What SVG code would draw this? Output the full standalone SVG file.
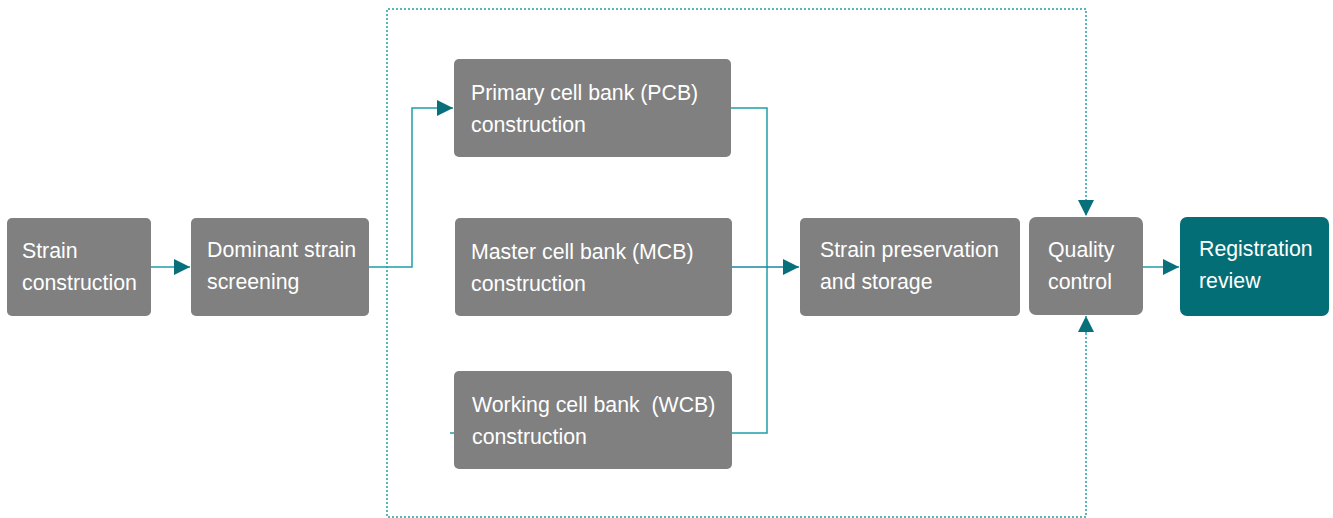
<svg xmlns="http://www.w3.org/2000/svg" width="1333" height="518" viewBox="0 0 1333 518">
<style>
.n{fill:#808080}
.r{fill:#046e76}
text{font-family:"Liberation Sans",Arial,sans-serif;font-size:21.3px;fill:#ffffff}
.c{fill:none;stroke:#1e9ea6;stroke-width:1.5}
.d{fill:none;stroke:#1e9ea6;stroke-width:1.5;stroke-dasharray:2 2}
</style>
<defs>
<marker id="b" viewBox="0 0 16 16" refX="16" refY="8" markerWidth="16" markerHeight="16" markerUnits="userSpaceOnUse" orient="auto">
<path d="M0,0 L16,8 L0,16 Z" fill="#08707a"/>
</marker>
</defs>
<g id="connectors">
<path class="d" d="M1086,201 L1086,9 L387,9 L387,517 L1086,517 L1086,333"/>
<path class="d" d="M1086,201 L1086,216" marker-end="url(#b)"/>
<path class="d" d="M1086,333 L1086,316" marker-end="url(#b)"/>
<path class="c" d="M151,267 L190,267" marker-end="url(#b)"/>
<path class="c" d="M369,267 L412,267 L412,108 L453,108" marker-end="url(#b)"/>
<path class="c" d="M731,108 L767,108 L767,433 L732,433"/>
<path class="c" style="stroke:#1a86a0" d="M732,267 L799,267" marker-end="url(#b)"/>
<path class="c" d="M1143,267 L1179,267" marker-end="url(#b)"/>
<path class="c" d="M450,433 L454,433"/>
</g>
<g id="strain-construction">
<rect class="n" x="7" y="218" width="144" height="98" rx="5"/>
<text x="22" y="258">Strain</text>
<text x="22" y="290">construction</text>
</g>
<g id="dominant-strain-screening">
<rect class="n" x="191" y="218" width="178" height="98" rx="5"/>
<text x="207" y="257">Dominant strain</text>
<text x="207" y="289">screening</text>
</g>
<g id="pcb">
<rect class="n" x="454" y="59" width="277" height="98" rx="5"/>
<text x="471" y="100">Primary cell bank (PCB)</text>
<text x="471" y="132">construction</text>
</g>
<g id="mcb">
<rect class="n" x="455" y="218" width="277" height="98" rx="5"/>
<text x="471" y="259">Master cell bank (MCB)</text>
<text x="471" y="291">construction</text>
</g>
<g id="wcb">
<rect class="n" x="454" y="371" width="278" height="98" rx="5"/>
<text x="472" y="412" xml:space="preserve">Working cell bank  (WCB)</text>
<text x="472" y="444">construction</text>
</g>
<g id="strain-preservation">
<rect class="n" x="800" y="218" width="220" height="98" rx="5"/>
<text x="820" y="257">Strain preservation</text>
<text x="820" y="289">and storage</text>
</g>
<g id="quality-control">
<rect class="n" x="1029" y="217" width="114" height="98" rx="7"/>
<text x="1048" y="257">Quality</text>
<text x="1048" y="289">control</text>
</g>
<g id="registration-review">
<rect class="r" x="1180" y="217" width="149" height="99" rx="7"/>
<text x="1199" y="256">Registration</text>
<text x="1199" y="288">review</text>
</g>
</svg>
